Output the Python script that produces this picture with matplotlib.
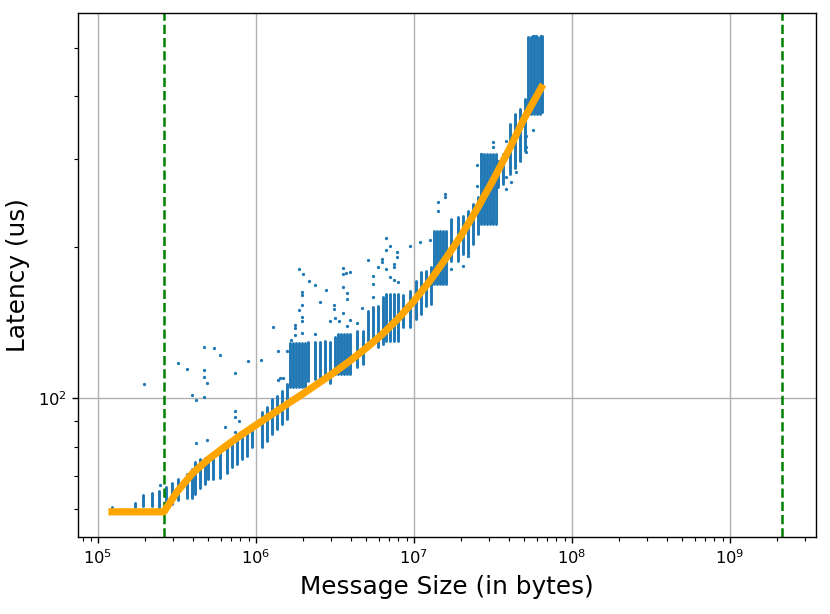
import matplotlib
matplotlib.use("Agg")
import matplotlib.pyplot as plt
from matplotlib.ticker import NullFormatter

# ---- data (message size in bytes, latency in us) ----
# dense vertical columns of measurements: size, min latency, max latency
col_size = [1.226e5, 1.72e5, 1.94e5, 2.19e5, 2.45e5, 2.70e5, 2.94e5, 3.20e5, 3.65e5, 3.93e5,
            4.12e5, 4.43e5, 4.77e5, 5.00e5, 5.38e5, 5.93e5, 6.54e5, 7.03e5, 7.56e5, 8.13e5,
            8.75e5, 9.41e5,
            1.088e6, 1.17e6, 1.259e6, 1.354e6, 1.456e6, 1.565e6,
            1.643e6, 1.716e6, 1.793e6, 1.873e6, 1.956e6, 2.044e6,
            2.144e6, 2.363e6, 2.542e6, 2.734e6, 2.941e6, 3.162e6,
            3.30e6, 3.45e6, 3.61e6, 3.77e6, 3.94e6,
            4.34e6, 4.77e6, 5.13e6, 5.52e6, 5.94e6, 6.39e6,
            6.71e6, 7.04e6, 7.46e6, 7.91e6,
            8.55e6, 9.42e6, 1.038e7, 1.117e7, 1.201e7, 1.292e7,
            1.336e7, 1.396e7, 1.458e7, 1.523e7, 1.591e7,
            1.729e7, 1.903e7, 2.046e7, 2.20e7, 2.367e7, 2.545e7,
            2.648e7, 2.766e7, 2.89e7, 3.02e7, 3.15e7, 3.29e7,
            3.41e7, 3.66e7, 4.04e7, 4.34e7, 4.67e7, 5.02e7,
            5.25e7, 5.48e7, 5.73e7, 5.98e7, 6.25e7, 6.44e7]
col_lo = [59.8, 60.5, 61.0, 61.0, 60.3, 59.4, 61.6, 62.6, 63.3, 63.3,
          64.3, 66.3, 67.3, 68.9, 68.9, 69.4, 71.0, 72.7, 73.8, 75.5,
          76.7, 79.7,
          79.7, 82.2, 84.8, 86.7, 88.7, 90.8,
          105.0, 105.0, 105.0, 105.0, 105.0, 105.0,
          108.3, 109.1, 109.9, 111.7, 107.4, 111.7,
          111.7, 111.7, 111.7, 111.7, 111.7,
          115.1, 116.9, 130.1, 130.1, 126.2, 128.2,
          130.1, 130.1, 130.1, 130.1,
          138.3, 138.3, 143.8, 147.2, 152.8, 154.0,
          169.1, 169.1, 169.1, 169.1, 169.1,
          187.9, 187.9, 193.8, 193.8, 203.2, 212.5,
          222.8, 222.8, 222.8, 222.8, 222.8, 222.8,
          263.3, 267.8, 280.4, 288.3, 297.7, 311.7,
          369.3, 369.3, 369.3, 369.3, 369.3, 372.0]
col_hi = [60.6, 61.7, 64.1, 64.8, 65.3, 66.5, 67.8, 68.9, 70.5, 72.2,
          74.4, 75.5, 76.1, 75.5, 76.7, 78.5, 79.7, 80.9, 82.2, 83.5,
          84.8, 86.7,
          93.6, 95.8, 99.5, 101.1, 103.4, 106.6,
          128.8, 128.8, 128.8, 128.8, 128.8, 128.8,
          129.1, 129.1, 129.1, 130.1, 129.1, 132.1,
          134.4, 134.4, 134.4, 134.4, 134.4,
          136.2, 136.2, 149.4, 151.6, 152.8, 158.8,
          161.5, 161.5, 161.5, 161.5,
          160.5, 163.7, 171.5, 178.1, 179.5, 182.3,
          215.8, 215.8, 215.8, 215.8, 215.8,
          228.0, 229.4, 231.2, 236.5, 244.3, 251.4,
          307.4, 307.4, 307.4, 307.4, 307.4, 307.4,
          297.7, 307.4, 352.7, 369.3, 378.0, 395.8,
          523.9, 523.9, 527.0, 523.9, 523.9, 527.0]

# isolated measurements
out_size = [1.97e5, 3.20e5, 3.68e5, 4.70e5, 5.41e5, 5.93e5, 4.70e5, 4.70e5, 4.93e5, 3.95e5,
            4.18e5, 4.70e5, 7.38e5, 8.87e5, 1.082e6, 7.38e5, 7.38e5, 7.85e5, 6.41e5, 7.38e5,
            4.18e5, 4.93e5, 2.48e5, 1.379e6, 1.379e6, 1.42e6, 1.277e6, 1.477e6, 1.579e6, 1.667e6,
            1.767e6, 1.767e6, 1.767e6, 1.873e6, 1.976e6, 1.965e6, 1.965e6, 1.965e6, 1.881e6, 1.965e6,
            1.965e6, 1.965e6, 2.166e6, 2.363e6, 2.762e6, 2.553e6, 2.363e6, 2.954e6, 3.148e6, 3.148e6,
            3.162e6, 3.367e6, 3.538e6, 3.711e6, 3.94e6, 3.538e6, 3.538e6, 3.75e6, 3.75e6, 3.538e6,
            3.94e6, 3.75e6, 4.34e6, 4.73e6, 5.11e6, 5.52e6, 5.52e6, 5.52e6, 5.91e6, 6.33e6,
            6.33e6, 6.67e6, 7.07e6, 6.67e6, 7.50e6, 7.50e6, 6.67e6, 7.07e6, 7.46e6, 7.91e6,
            7.88e6, 7.88e6, 9.42e6, 1.101e7, 1.26e7, 1.501e7, 1.591e7, 1.729e7, 2.046e7, 2.20e7,
            1.422e7, 1.422e7, 1.568e7, 1.568e7, 2.648e7, 2.523e7, 2.523e7, 3.167e7, 3.167e7, 3.14e7,
            3.81e7, 3.81e7, 4.10e7, 3.81e7, 4.41e7, 4.45e7, 5.10e7, 5.10e7, 5.10e7, 5.67e7,
            6.31e7, 5.02e7, 5.67e7, 5.96e7, 6.37e7]
out_lat = [106.6, 117.2, 114.3, 126.2, 125.6, 122.0, 113.7, 110.4, 107.4, 101.4,
           99.2, 100.3, 112.3, 118.7, 119.2, 94.3, 91.5, 90.1, 87.4, 85.4,
           81.2, 82.5, 67.1, 123.9, 108.6, 109.9, 138.8, 109.9, 124.1, 130.7,
           138.0, 140.1, 133.8, 180.9, 176.8, 162.5, 160.6, 153.6, 150.1, 144.8,
           142.2, 134.6, 171.5, 168.1, 164.3, 155.1, 134.0, 142.2, 153.0, 150.3,
           144.4, 142.2, 181.7, 177.9, 178.1, 176.8, 166.3, 161.7, 157.6, 148.0,
           143.1, 139.4, 141.1, 151.4, 188.8, 175.4, 168.8, 159.3, 182.3, 189.7,
           186.9, 208.3, 200.7, 197.4, 185.1, 182.8, 180.5, 174.6, 172.0, 170.4,
           195.3, 190.9, 200.7, 204.4, 206.3, 170.1, 171.5, 180.9, 183.6, 192.3,
           245.7, 235.8, 255.4, 251.4, 306.9, 292.2, 265.3, 323.7, 316.4, 224.2,
           275.6, 261.3, 269.3, 326.3, 282.0, 331.3, 333.9, 316.4, 309.2, 342.7,
           373.3, 392.2, 527.0, 526.3, 526.3]

# fitted latency model
fit_size = [1.23e5, 2.62e5, 3.16e5, 3.98e5, 5.01e5, 6.31e5, 7.94e5, 1.0e6, 1.26e6,
            1.58e6, 2.0e6, 2.51e6, 3.16e6, 3.98e6, 5.01e6, 6.31e6, 7.94e6, 1.0e7,
            1.26e7, 1.58e7, 2.0e7, 2.51e7, 3.16e7, 3.98e7, 5.01e7, 6.41e7]
fit_lat = [59.3, 59.3, 64.9, 70.8, 75.5, 79.8, 84.1, 88.3, 92.7,
           97.3, 102.1, 107.2, 112.7, 118.9, 125.9, 134.0, 143.9, 156.1,
           171.0, 189.1, 211.2, 238.2, 271.2, 311.6, 361.8, 416.0]

# protocol boundaries (bytes)
bounds = [262144, 2147483648]

# ---- plot ----
fig = plt.figure(figsize=(8.3, 6.14), dpi=100)
ax = fig.add_axes([0.0943, 0.1259, 0.8885, 0.8534])
ax.set_xscale("log")
ax.set_yscale("log")

ax.vlines(col_size, col_lo, col_hi, colors="#1f77b4", linewidth=2.1,
          capstyle="round", zorder=2)
ax.scatter(out_size, out_lat, s=5.5, color="#1f77b4", linewidths=0, zorder=2)
for b in bounds:
    ax.axvline(b, color="green", linestyle="--", linewidth=1.8, zorder=2.5)
ax.plot(fit_size, fit_lat, color="orange", linewidth=5.2, zorder=3)

ax.set_xlim(10 ** 4.8763, 10 ** 9.5439)
ax.set_ylim(52.9, 587)
ax.yaxis.set_minor_formatter(NullFormatter())
ax.grid(True, which="major", color="#b0b0b0", linewidth=1.0)
ax.set_axisbelow(True)

ax.tick_params(axis="both", which="major", labelsize=11.7, length=4.5, width=1.0)
ax.tick_params(axis="both", which="minor", length=2.6, width=0.8)
for s in ax.spines.values():
    s.set_linewidth(1.0)

ax.set_xlabel("Message Size (in bytes)", fontsize=17.8, labelpad=6)
ax.set_ylabel("Latency (us)", fontsize=17.8, labelpad=6)

fig.savefig("out.png", dpi=100)
